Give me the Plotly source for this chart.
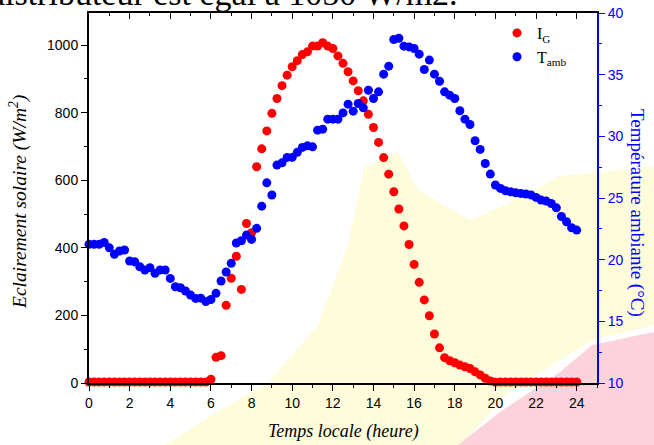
import plotly.graph_objects as go

# ---------------- data (15-min steps, 0..24 h) ----------------
hours = [i * 0.25 for i in range(97)]

ig_values = (
    [3] * 24 +                                   # 0.00 .. 5.75
    [11, 76, 81, 230, 310, 375, 277, 472,        # 6.00 .. 7.75
     445, 640, 693, 746, 798, 842, 880, 911,     # 8.00 .. 9.75
     936, 954, 972, 980, 997, 997, 1007, 997,    # 10.00 .. 11.75
     990, 968, 946, 921, 894, 865, 835, 795,     # 12.00 .. 13.75
     756, 712, 667, 618, 566, 515, 465, 410,     # 14.00 .. 15.75
     351, 298, 246, 199, 145, 104, 75, 66,       # 16.00 .. 17.75
     60, 53, 48, 43, 33, 24, 14, 6,              # 18.00 .. 19.75
     2] +                                        # 20.00
    [3] * 16                                     # 20.25 .. 24.00
)

tamb_values = [
    21.24, 21.24, 21.24, 21.40, 20.96, 20.43, 20.70, 20.78,   # 0 .. 1.75
    19.89, 19.83, 19.43, 19.16, 19.35, 18.89, 19.16, 19.16,   # 2 .. 3.75
    18.48, 17.80, 17.72, 17.46, 17.13, 16.86, 16.88, 16.60,   # 4 .. 5.75
    16.77, 17.27, 18.27, 19.00, 19.70, 21.35, 21.53, 21.99,   # 6 .. 7.75
    21.64, 22.54, 24.34, 26.23, 25.24, 27.67, 27.85, 28.29,   # 8 .. 9.75
    28.29, 28.70, 29.10, 29.23, 29.15, 30.50, 30.58, 31.39,   # 10 .. 11.75
    31.39, 31.39, 31.90, 32.61, 32.04, 32.66, 32.31, 33.74,   # 12 .. 13.75
    33.07, 33.61, 35.04, 35.69, 37.85, 37.95, 37.31, 37.25,   # 14 .. 15.75
    37.12, 36.66, 35.42, 36.18, 35.04, 34.47, 33.61, 33.34,   # 16 .. 17.75
    33.07, 32.07, 31.39, 30.96, 29.64, 28.94, 27.80, 26.94,   # 18 .. 19.75
    26.05, 25.78, 25.58, 25.50, 25.42, 25.37, 25.32, 25.25,   # 20 .. 21.75
    25.05, 24.83, 24.75, 24.55, 24.20, 23.50, 23.07, 22.59,   # 22 .. 23.75
    22.40,                                                    # 24
]

x_ticks = list(range(0, 25, 2))
y_left_ticks = list(range(0, 1001, 200))
y_right_ticks = list(range(10, 41, 5))

# ---------------- layout helpers ----------------
W, H = 654, 445
L, R, T, B = 89, 597, 13, 383


def xp(px):
    return (px - L) / (R - L)


def yp(py):
    return (B - py) / (B - T)


def path(points):
    return "M " + " L ".join(f"{xp(a):.4f},{yp(b):.4f}" for a, b in points) + " Z"


RED = "#ff0000"
BLUE = "#0000ff"
SERIF = "Liberation Serif, Times New Roman, serif"
SANS = "Liberation Sans, Arial, sans-serif"

fig = go.Figure()
fig.add_trace(go.Scatter(
    x=hours, y=ig_values, mode="markers", name="I<sub>G</sub>",
    marker=dict(color=RED, size=9, line=dict(width=0)),
    yaxis="y", xaxis="x", cliponaxis=False,
))
fig.add_trace(go.Scatter(
    x=hours, y=tamb_values, mode="markers", name="T<sub>amb</sub>",
    marker=dict(color=BLUE, size=9, line=dict(width=0)),
    yaxis="y2", xaxis="x", cliponaxis=False,
))
fig.add_trace(go.Scatter(x=[], y=[], xaxis="x2", yaxis="y", showlegend=False,
                         hoverinfo="skip"))

# faint scan watermark blotches
yellow = [(165, 445), (212, 415), (268, 383), (318, 325), (348, 245), (364, 168),
          (398, 152), (418, 190), (470, 220), (520, 198), (560, 176), (654, 166),
          (654, 325), (592, 340), (560, 360), (505, 395), (462, 445)]
pink = [(458, 445), (500, 412), (560, 372), (592, 345), (654, 332), (654, 445)]

shapes = [
    dict(type="path", xref="paper", yref="paper", path=path(yellow),
         fillcolor="#fefcdb", line=dict(width=0), layer="below"),
    dict(type="path", xref="paper", yref="paper", path=path(pink),
         fillcolor="#fcd3dc", line=dict(width=0), layer="below"),
]

axis_common = dict(showgrid=False, zeroline=False, automargin=False)

fig.update_layout(
    width=W, height=H,
    margin=dict(l=L, r=W - R, t=T, b=H - B, pad=0, autoexpand=False),
    paper_bgcolor="white", plot_bgcolor="rgba(0,0,0,0)",
    shapes=shapes,
    showlegend=True,
    legend=dict(x=xp(497), y=yp(16), xanchor="left", yanchor="top",
                bgcolor="rgba(0,0,0,0)", font=dict(family=SERIF, size=16, color="black"),
                itemwidth=30, tracegroupgap=0),
    xaxis=dict(
        **axis_common, range=[0, 25], tickvals=x_ticks,
        ticktext=[str(v) for v in x_ticks],
        ticks="outside", ticklen=6, tickwidth=1.3, tickcolor="black",
        showline=True, linecolor="black", linewidth=2,
        tickfont=dict(family=SANS, size=14, color="black"),
        minor=dict(dtick=1, tick0=0, ticks="outside", ticklen=3, tickcolor="black", tickwidth=1),
        anchor="y",
    ),
    xaxis2=dict(
        **axis_common, range=[0, 25], overlaying="x", side="top", anchor="y",
        tickvals=x_ticks, showticklabels=False,
        ticks="inside", ticklen=6, tickwidth=1.3, tickcolor="black",
        showline=True, linecolor="black", linewidth=2,
        minor=dict(dtick=1, tick0=0, ticks="inside", ticklen=3, tickcolor="black", tickwidth=1),
    ),
    yaxis=dict(
        **axis_common, range=[0, 1095], tickvals=y_left_ticks,
        ticktext=[str(v) for v in y_left_ticks],
        ticks="outside", ticklen=6, tickwidth=1.3, tickcolor="black",
        showline=True, linecolor="black", linewidth=2,
        tickfont=dict(family=SANS, size=14, color="black"),
        minor=dict(dtick=100, tick0=0, ticks="outside", ticklen=3, tickcolor="black", tickwidth=1),
    ),
    yaxis2=dict(
        **axis_common, range=[10, 40], overlaying="y", side="right", anchor="x",
        tickvals=y_right_ticks, ticktext=[str(v) for v in y_right_ticks],
        ticks="outside", ticklen=6, tickwidth=1.3, tickcolor=BLUE,
        showline=True, linecolor=BLUE, linewidth=2,
        tickfont=dict(family=SANS, size=14, color=BLUE),
        minor=dict(dtick=2.5, tick0=10, ticks="outside", ticklen=3, tickcolor=BLUE, tickwidth=1),
    ),
    annotations=[
        dict(text="Temps locale (heure)", xref="paper", yref="paper",
             x=xp(343), y=yp(431), xanchor="center", yanchor="middle", showarrow=False,
             font=dict(family=SERIF, size=18, color="black", style="italic")),
        dict(text="Eclairement solaire (W/m<sup>2</sup>)", xref="paper", yref="paper",
             x=xp(18), y=yp(202), xanchor="center", yanchor="middle", showarrow=False,
             textangle=-90,
             font=dict(family=SERIF, size=19.5, color="black", style="italic")),
        dict(text="Température ambiante (°C)", xref="paper", yref="paper",
             x=xp(637), y=yp(213), xanchor="center", yanchor="middle", showarrow=False,
             textangle=90,
             font=dict(family=SERIF, size=19, color=BLUE)),
        dict(text="distributeur est égal à 1050 W/m2.", xref="paper", yref="paper",
             x=xp(-14), y=yp(-7), xanchor="left", yanchor="middle", showarrow=False,
             font=dict(family=SERIF, size=34, color="black")),
    ],
)

fig.write_html(
    "out.html",
    config={"displayModeBar": False},
    post_script="document.body.style.margin='0';document.body.style.overflow='hidden';",
)
